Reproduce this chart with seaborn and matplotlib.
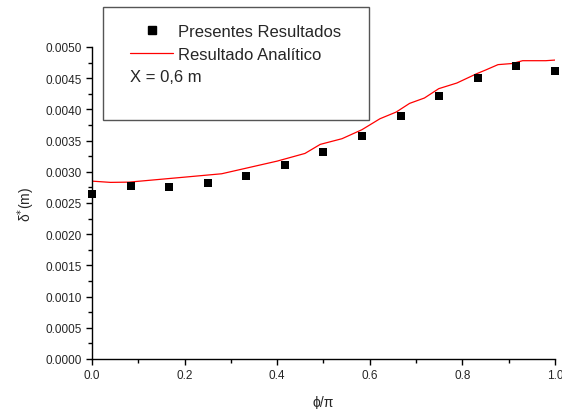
import numpy as np
import pandas as pd
import seaborn as sns
import matplotlib.pyplot as plt
from matplotlib.lines import Line2D
from matplotlib.patches import Rectangle
from matplotlib.ticker import MultipleLocator, FormatStrFormatter

# Presentes Resultados (puntos)
phi_pts = [0, 1/12, 2/12, 3/12, 4/12, 5/12, 6/12, 7/12, 8/12, 9/12, 10/12, 11/12, 1.0]
delta_pts = [0.00264, 0.002765, 0.00276, 0.002824, 0.002936, 0.003102, 0.00331,
             0.003578, 0.003888, 0.004214, 0.004503, 0.004695, 0.00462]

# Resultado Analítico (línea)
phi_line = [0.0, 0.04, 0.08, 0.2, 0.28, 0.4, 0.46, 0.493, 0.54, 0.583, 0.622, 0.657,
            0.686, 0.718, 0.749, 0.788, 0.831, 0.85, 0.877, 0.908, 0.93, 0.98, 1.0]
delta_line = [0.00285, 0.00283, 0.002834, 0.002914, 0.002968, 0.003171, 0.003294,
              0.003439, 0.00353, 0.003674, 0.00385, 0.003957, 0.004096, 0.004182,
              0.004332, 0.004422, 0.004572, 0.00463, 0.004717, 0.004735, 0.00478,
              0.00478, 0.00479]

pts = pd.DataFrame({"phi": phi_pts, "delta": delta_pts})
lin = pd.DataFrame({"phi": phi_line, "delta": delta_line})

sns.set_style("ticks")
plt.rcParams['font.family'] = ['Liberation Sans', 'DejaVu Sans']

fig = plt.figure(figsize=(5.62, 4.10), dpi=100)
ax = fig.add_axes([0.1637, 0.122, 0.8238, 0.761])

sns.lineplot(data=lin, x="phi", y="delta", color="red", linewidth=0.9, ax=ax)
sns.scatterplot(data=pts, x="phi", y="delta", marker="s", s=34, color="black",
                edgecolor="black", linewidth=0, ax=ax, clip_on=False, zorder=3)

ax.set_xlim(0, 1.0)
ax.set_ylim(0, 0.005)
ax.xaxis.set_major_locator(MultipleLocator(0.2))
ax.xaxis.set_minor_locator(MultipleLocator(0.1))
ax.yaxis.set_major_locator(MultipleLocator(0.0005))
ax.yaxis.set_minor_locator(MultipleLocator(0.00025))
ax.xaxis.set_major_formatter(FormatStrFormatter("%.1f"))
ax.yaxis.set_major_formatter(FormatStrFormatter("%.4f"))
ax.tick_params(which="major", direction="out", length=4, width=1, labelsize=8.5, color="black")
ax.tick_params(which="minor", direction="out", length=3, width=1, color="black")
sns.despine(ax=ax)
for s in ["left", "bottom"]:
    ax.spines[s].set_color("black")
    ax.spines[s].set_linewidth(1)

ax.set_xlabel("ϕ/π", fontsize=10, labelpad=10)
ax.set_ylabel("δ$^{*}$(m)", fontsize=10, labelpad=6)

# caja de leyenda
fig.patches.append(Rectangle((103/562, 1 - 121/410), 266/562, 113/410,
                             transform=fig.transFigure, facecolor="white",
                             edgecolor="#555555", linewidth=1, zorder=5))
handles = [Line2D([], [], marker="s", color="black", linestyle="none", markersize=5.5),
           Line2D([], [], color="red", linewidth=0.9)]
leg = fig.legend(handles, ["Presentes Resultados", "Resultado Analítico"],
                 loc="upper left", bbox_to_anchor=(130/562, 1 - 25/410),
                 frameon=False, fontsize=12, handlelength=2.6, handletextpad=0.3,
                 labelspacing=0.45, borderpad=0, borderaxespad=0)
leg.set_zorder(6)
fig.text(130/562, 1 - 78/410, "X = 0,6 m", fontsize=12, va="center", ha="left", zorder=6)

fig.savefig("out.png", dpi=100)
